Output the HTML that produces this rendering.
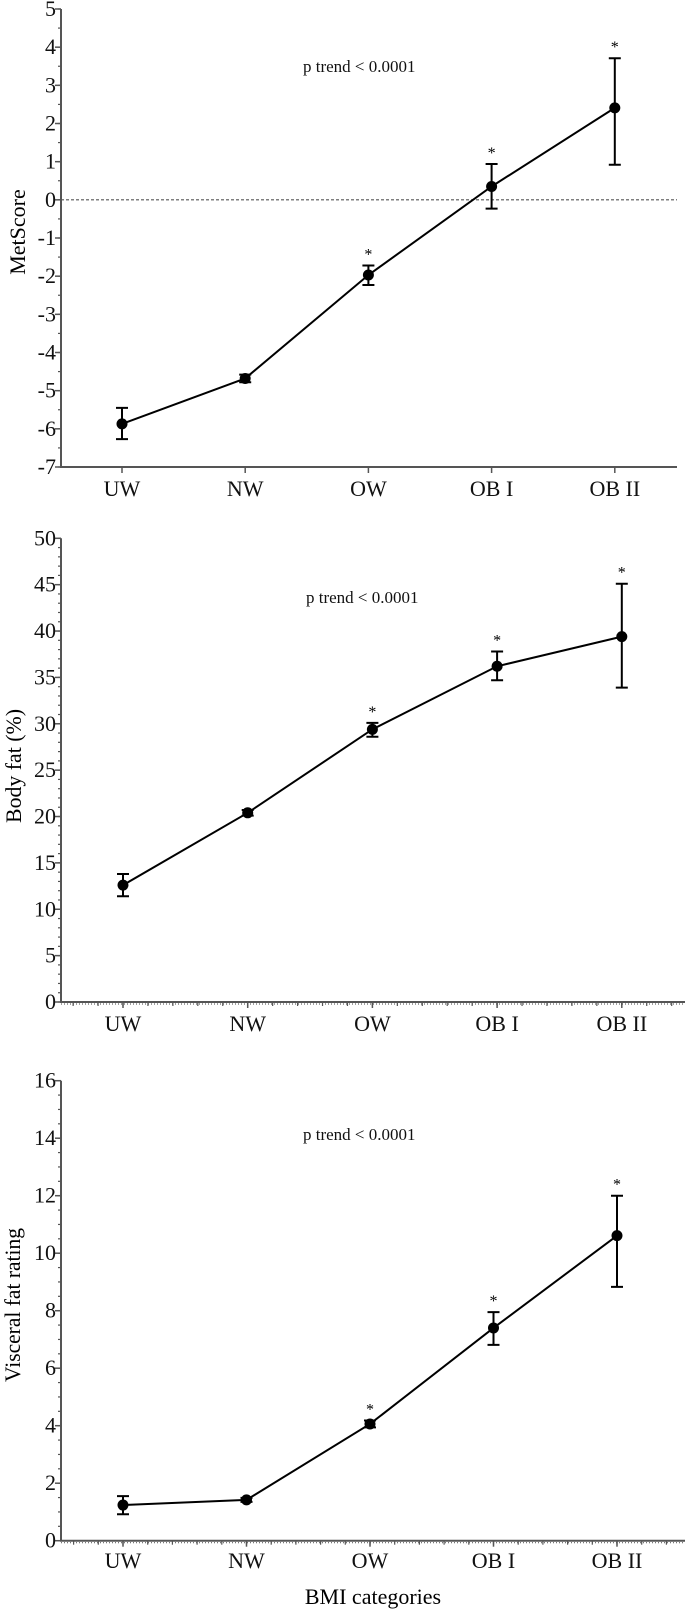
<!DOCTYPE html>
<html><head><meta charset="utf-8">
<style>
html,body{margin:0;padding:0;background:#fff;}
svg{display:block;font-family:"Liberation Serif",serif;}
</style></head>
<body>
<svg id="fig" width="685" height="1611" viewBox="0 0 685 1611" xmlns="http://www.w3.org/2000/svg">
  <text transform="translate(25,232) rotate(-90)" text-anchor="middle" font-size="22">MetScore</text>
  <text transform="translate(21,766) rotate(-90)" text-anchor="middle" font-size="22" textLength="114" lengthAdjust="spacingAndGlyphs">Body fat (%)</text>
  <text transform="translate(20,1305) rotate(-90)" text-anchor="middle" font-size="22" textLength="154" lengthAdjust="spacingAndGlyphs">Visceral fat rating</text>
  <text x="373" y="1604" text-anchor="middle" font-size="22">BMI categories</text>
</svg>
<script>
const categories = ["UW","NW","OW","OB I","OB II"];
// Panel 1: MetScore
const metMean = [-5.87,-4.68,-1.97,0.35,2.41];
const metLow  = [-6.27,-4.78,-2.23,-0.23,0.92];
const metHigh = [-5.45,-4.58,-1.72,0.94,3.71];
const metStar = [false,false,true,true,true];
const metTicks = [5,4,3,2,1,0,-1,-2,-3,-4,-5,-6,-7];
// Panel 2: Body fat
const bfMean = [12.6,20.4,29.4,36.2,39.4];
const bfLow  = [11.4,20.1,28.6,34.7,33.9];
const bfHigh = [13.8,20.7,30.1,37.8,45.1];
const bfStar = [false,false,true,true,true];
const bfTicks = [0,5,10,15,20,25,30,35,40,45,50];
// Panel 3: Visceral fat
const vfMean = [1.24,1.42,4.06,7.40,10.61];
const vfLow  = [0.92,1.35,3.94,6.81,8.83];
const vfHigh = [1.55,1.49,4.18,7.95,12.0];
const vfStar = [false,false,true,true,true];
const vfTicks = [0,2,4,6,8,10,12,14,16];

const NS = "http://www.w3.org/2000/svg";
const svg = document.getElementById("fig");
function mk(tag, attrs, parent){
  const e = document.createElementNS(NS, tag);
  for (const k in attrs) e.setAttribute(k, attrs[k]);
  (parent||svg).appendChild(e);
  return e;
}

function panel(cfg){
  const g = mk("g", {});
  
  
  const y = v => cfg.y0 + (v - cfg.vmin) * (cfg.y1 - cfg.y0) / (cfg.vmax - cfg.vmin);
  const x = i => cfg.xc0 + i * cfg.xstep;
  const axC = "#555";
  const ya = mk("line", {x1:cfg.ax, x2:cfg.ax, y1:y(cfg.vmax), y2:y(cfg.vmin)+0.5, stroke:axC, "stroke-width":2}, g);
  
  
  for (let v = cfg.vmin; v <= cfg.vmax + 1e-9; v += cfg.minor){
    mk("line", {x1:cfg.ax-3, x2:cfg.ax, y1:y(v), y2:y(v), stroke:axC, "stroke-width":1.2}, g);
  }
  cfg.ticks.forEach(t => {
    mk("line", {x1:cfg.ax-6, x2:cfg.ax, y1:y(t), y2:y(t), stroke:axC, "stroke-width":1.5}, g);
    const tl = mk("text", {x:cfg.ax-5, y:y(t)+7, "text-anchor":"end", "font-size":22, fill:"#111"}, g);
    tl.textContent = t;
    
    
  });
  const xa = mk("line", {x1:cfg.ax-1, x2:cfg.xend, y1:y(cfg.vmin), y2:y(cfg.vmin), stroke:axC, "stroke-width":2}, g);
  
  
  if (cfg.dotted){
    mk("line", {x1:cfg.ax, x2:cfg.xend, y1:y(cfg.vmin)+2, y2:y(cfg.vmin)+2, stroke:"#666", "stroke-width":1.2, "stroke-dasharray":"1 2"}, g);
    for (let p = x(0) - 2*cfg.xstep/5; p <= cfg.xend; p += cfg.xstep/5){
      if (p < cfg.ax + 3) continue;
      mk("line", {x1:p, x2:p, y1:y(cfg.vmin), y2:y(cfg.vmin)+4, stroke:axC, "stroke-width":1.2}, g);
    }
  }
  categories.forEach((c,i) => {
    mk("line", {x1:x(i), x2:x(i), y1:y(cfg.vmin), y2:y(cfg.vmin)+6, stroke:axC, "stroke-width":1.5}, g);
    const tl = mk("text", {x:x(i), y:cfg.xlabY, "text-anchor":"middle", "font-size":22, fill:"#111"}, g);
    tl.textContent = c;
    
    
  });
  if (cfg.zeroLine){
    const zl = mk("line", {x1:cfg.ax, x2:cfg.xend, y1:y(0), y2:y(0), stroke:"#555", "stroke-width":1.2, "stroke-dasharray":"3 2"}, g);
    
    
  }
  const pt = mk("text", {x:cfg.ptX, y:cfg.ptY, "font-size":17, fill:"#111"}, g);
  pt.textContent = "p trend < 0.0001";
  
  
  const pts = cfg.mean.map((m,i) => x(i) + "," + y(m)).join(" ");
  const pl = mk("polyline", {points:pts, fill:"none", stroke:"#000", "stroke-width":2}, g);
  
  
  cfg.mean.forEach((m,i) => {
    const eb = mk("path", {d:`M${x(i)},${y(cfg.low[i])}V${y(cfg.high[i])}M${x(i)-6},${y(cfg.low[i])}H${x(i)+6}M${x(i)-6},${y(cfg.high[i])}H${x(i)+6}`, stroke:"#000", "stroke-width":2, fill:"none"}, g);
    
    
    const dot = mk("circle", {cx:x(i), cy:y(m), r:5.5, fill:"#000"}, g);
    
    
    if (cfg.star[i]){
      const st = mk("text", {x:x(i), y:y(cfg.high[i]) - 6, "text-anchor":"middle", "font-size":16, fill:"#000"}, g);
      st.textContent = "*";
      
      
    }
  });
}

panel({name:"metscore-panel", vmin:-7, vmax:5, y0:467, y1:9, ax:61, xend:677, xc0:122, xstep:123.2,
  minor:0.5, ticks:metTicks, mean:metMean, low:metLow, high:metHigh, star:metStar,
  xlabY:496, zeroLine:true, dotted:false, ptX:303, ptY:72});
panel({name:"bodyfat-panel", vmin:0, vmax:50, y0:1002, y1:538.3, ax:61, xend:685, xc0:123, xstep:124.7,
  minor:1, ticks:bfTicks, mean:bfMean, low:bfLow, high:bfHigh, star:bfStar,
  xlabY:1031, zeroLine:false, dotted:true, ptX:306, ptY:603});
panel({name:"visceral-panel", vmin:0, vmax:16, y0:1540.7, y1:1080.7, ax:61, xend:685, xc0:123, xstep:123.5,
  minor:0.5, ticks:vfTicks, mean:vfMean, low:vfLow, high:vfHigh, star:vfStar,
  xlabY:1568, zeroLine:false, dotted:true, ptX:303, ptY:1140});
</script>
</body></html>
